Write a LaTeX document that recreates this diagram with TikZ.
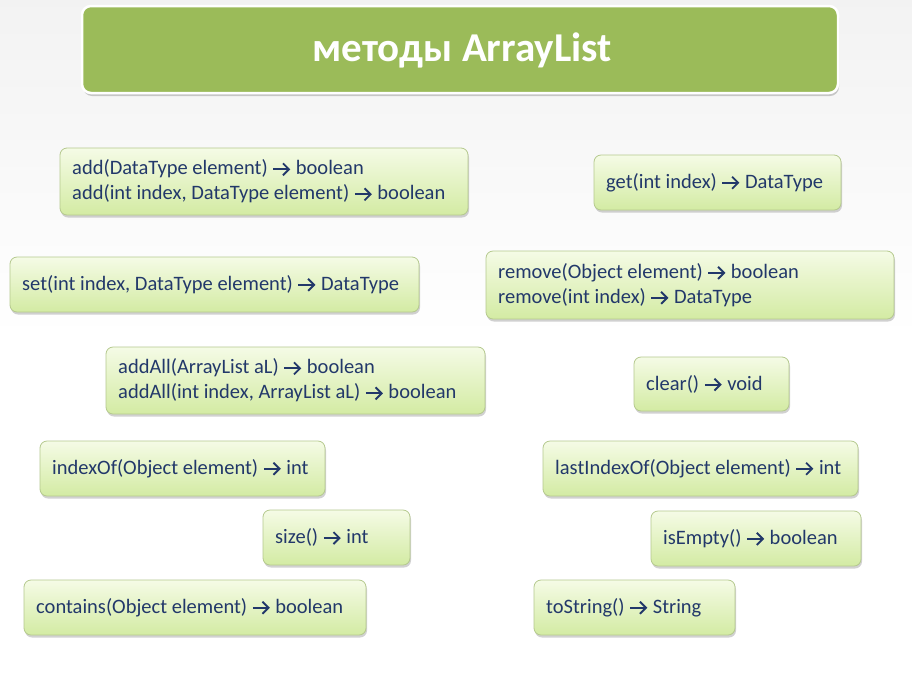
\documentclass[tikz,border=0pt]{standalone}
\usepackage{fontspec}
\setmainfont{Carlito}
\usetikzlibrary{shadows,arrows.meta}
\definecolor{titlegreen}{HTML}{9BBB59}
\definecolor{boxtop}{HTML}{F5FBE6}
\definecolor{boxbot}{HTML}{D3EBA3}
\definecolor{boxline}{HTML}{B5C98E}
\definecolor{codeink}{HTML}{22386A}
% inline "returns" arrow
\newcommand{\ra}{\tikz[baseline=-5.5pt, x=1pt, y=1pt]{\draw[line width=1.9pt, codeink,
  -{Straight Barb[length=6pt, width=12pt, line width=1.9pt]}] (0,0) -- (17,0);}}
\tikzset{
  x=1pt, y=-1pt,
  titlebox/.style={draw=white, line width=2.5pt, fill=titlegreen, rounded corners=9pt,
    drop shadow={shadow xshift=1pt, shadow yshift=-3pt, fill=black!35, opacity=.6}},
  methodbox/.style={draw=boxline, line width=0.8pt, rounded corners=7pt,
    top color=boxtop, bottom color=boxbot,
    drop shadow={shadow xshift=1pt, shadow yshift=-2.5pt, fill=black!40, opacity=.45}},
  methodtext/.style={anchor=west, align=left, text=codeink, font=\fontsize{20.5}{25}\selectfont, inner sep=0pt}
}
\newcommand{\methodbox}[6]{% name, x1, y1, x2, y2, text
  \path[methodbox] (#2,#3) rectangle (#4,#5);
  \node[methodtext] (#1) at ({#2+12},{(#3+#5)/2}) {#6};
}
\begin{document}
\begin{tikzpicture}
  \path[top color=black!5, bottom color=white, middle color=white] (0,0) rectangle (912,678);
  \useasboundingbox (0,0) rectangle (912,678);
  % heading
  \path[titlebox] (82,6) rectangle (838,93);
  \node[text=white, font=\fontsize{41}{46}\selectfont\bfseries] (title) at (462,50) {методы ArrayList};
  % method boxes
  \methodbox{add}{60}{148}{468}{215}{add(DataType element) \ra{} boolean\\add(int index, DataType element) \ra{} boolean}
  \methodbox{get}{594}{155}{841}{210}{get(int index) \ra{} DataType}
  \methodbox{set}{10}{257}{419}{312}{set(int index, DataType element) \ra{} DataType}
  \methodbox{remove}{486}{251}{894}{319}{remove(Object element) \ra{} boolean\\remove(int index) \ra{} DataType}
  \methodbox{addall}{106}{347}{485}{414}{addAll(ArrayList aL) \ra{} boolean\\addAll(int index, ArrayList aL) \ra{} boolean}
  \methodbox{clear}{634}{357}{789}{411}{clear() \ra{} void}
  \methodbox{indexof}{40}{441}{325}{496}{indexOf(Object element) \ra{} int}
  \methodbox{lastindexof}{543}{441}{858}{496}{lastIndexOf(Object element) \ra{} int}
  \methodbox{size}{263}{510}{410}{565}{size() \ra{} int}
  \methodbox{isempty}{651}{511}{861}{566}{isEmpty() \ra{} boolean}
  \methodbox{contains}{24}{580}{366}{635}{contains(Object element) \ra{} boolean}
  \methodbox{tostring}{534}{580}{735}{635}{toString() \ra{} String}
\end{tikzpicture}
\end{document}
